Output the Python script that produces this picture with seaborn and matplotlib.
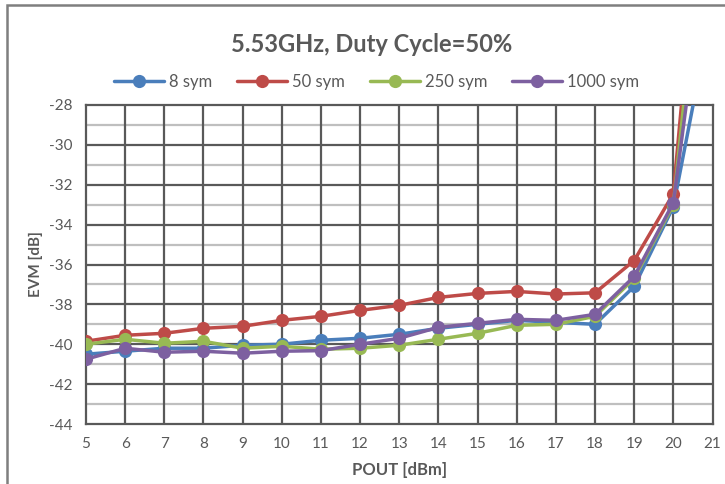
import matplotlib
matplotlib.use("Agg")
import matplotlib.pyplot as plt
from matplotlib.patches import Rectangle
from matplotlib.lines import Line2D
import numpy as np
import pandas as pd
import seaborn as sns

# Output power sweep (dBm)
pout = [5, 6, 7, 8, 9, 10, 11, 12, 13, 14, 15, 16, 17, 18, 19, 20, 21]

# EVM (dB) per burst length
evm_8 = [-40.5, -40.35, -40.2, -40.2, -40.05, -40.0, -39.8, -39.7, -39.5, -39.2, -39.0,
         -38.8, -38.9, -39.0, -37.1, -33.1, -23.0]
evm_50 = [-39.85, -39.55, -39.45, -39.2, -39.1, -38.8, -38.6, -38.3, -38.05, -37.65, -37.45,
          -37.35, -37.48, -37.42, -35.8, -32.45, -11.0]
evm_250 = [-40.0, -39.75, -39.95, -39.85, -40.2, -40.1, -40.25, -40.2, -40.05, -39.75, -39.45,
           -39.05, -39.0, -38.6, -36.7, -33.0, -14.0]
evm_1000 = [-40.75, -40.2, -40.4, -40.35, -40.45, -40.35, -40.32, -40.0, -39.7, -39.15, -38.95,
            -38.75, -38.8, -38.5, -36.6, -32.9, -18.0]

series_names = ["8 sym", "50 sym", "250 sym", "1000 sym"]
colors = ["#4A7EBB", "#BE4B48", "#98B954", "#7D60A0"]

df = pd.concat([
    pd.DataFrame({"POUT": pout, "EVM": vals, "series": name})
    for name, vals in zip(series_names, [evm_8, evm_50, evm_250, evm_1000])
], ignore_index=True)

sns.set_theme(style="white")
font = ["Lato", "DejaVu Sans"]
plt.rcParams["font.family"] = font
plt.rcParams["axes.unicode_minus"] = False
text_color = "#595959"
grid_dark = "#595959"
grid_light = "#BFBFBF"

fig = plt.figure(figsize=(7.25, 4.84), dpi=100)
ax = fig.add_axes([86 / 725, 1 - 424 / 484, (712.5 - 86) / 725, (424 - 105) / 484])

sns.lineplot(data=df, x="POUT", y="EVM", hue="series", hue_order=series_names,
             palette=colors, marker="o", markersize=9.5, markeredgewidth=0,
             linewidth=2.5, ax=ax, legend=False, sort=False, zorder=3)

ax.set_xlim(5, 21)
ax.set_ylim(-44, -28)
ax.set_xticks(np.arange(5, 22, 1))
ax.set_yticks(np.arange(-44, -27, 2))

ax.grid(False)
for v in np.arange(-43, -28, 2):
    ax.axhline(v, color=grid_light, lw=1.6, zorder=1)
for v in np.arange(-42, -28, 2):
    ax.axhline(v, color=grid_dark, lw=1.6, zorder=1.5)
for v in np.arange(6, 21, 1):
    ax.axvline(v, color=grid_dark, lw=1.6, zorder=1.5)
for s in ax.spines.values():
    s.set_color(grid_dark)
    s.set_linewidth(1.6)
    s.set_zorder(1.5)

ax.tick_params(axis="both", which="both", length=0, labelsize=11,
               labelcolor=text_color, pad=10)
ax.tick_params(axis="x", pad=9)
ax.set_xlabel("POUT [dBm]", fontsize=12, fontweight="bold", color=text_color, labelpad=8)
ax.set_ylabel("EVM [dB]", fontsize=11, fontweight="bold", color=text_color, labelpad=4)

fig.text(0.5 * (232 + 512) / 725, 1 - 45 / 484, "5.53GHz, Duty Cycle=50%",
         ha="center", va="center", fontsize=17, fontweight="bold", color=text_color)

handles = [Line2D([0], [0], color=c, lw=2.5, marker="o", markersize=9.5,
                  markeredgewidth=0) for c in colors]
fig.legend(handles, series_names, loc="center",
           bbox_to_anchor=(0.5 * (106 + 647) / 725, 1 - 82 / 484),
           ncol=4, frameon=False, fontsize=12, labelcolor=text_color,
           handlelength=3.0, handletextpad=0.3, columnspacing=1.5)

# chart frame
fig.patches.append(Rectangle((7 / 725, -0.05), 1.2, 1 - 5 / 484 + 0.05,
                             transform=fig.transFigure, fill=False,
                             edgecolor="#7F7F7F", lw=1.8, clip_on=False))

fig.savefig("out.png", dpi=100)
